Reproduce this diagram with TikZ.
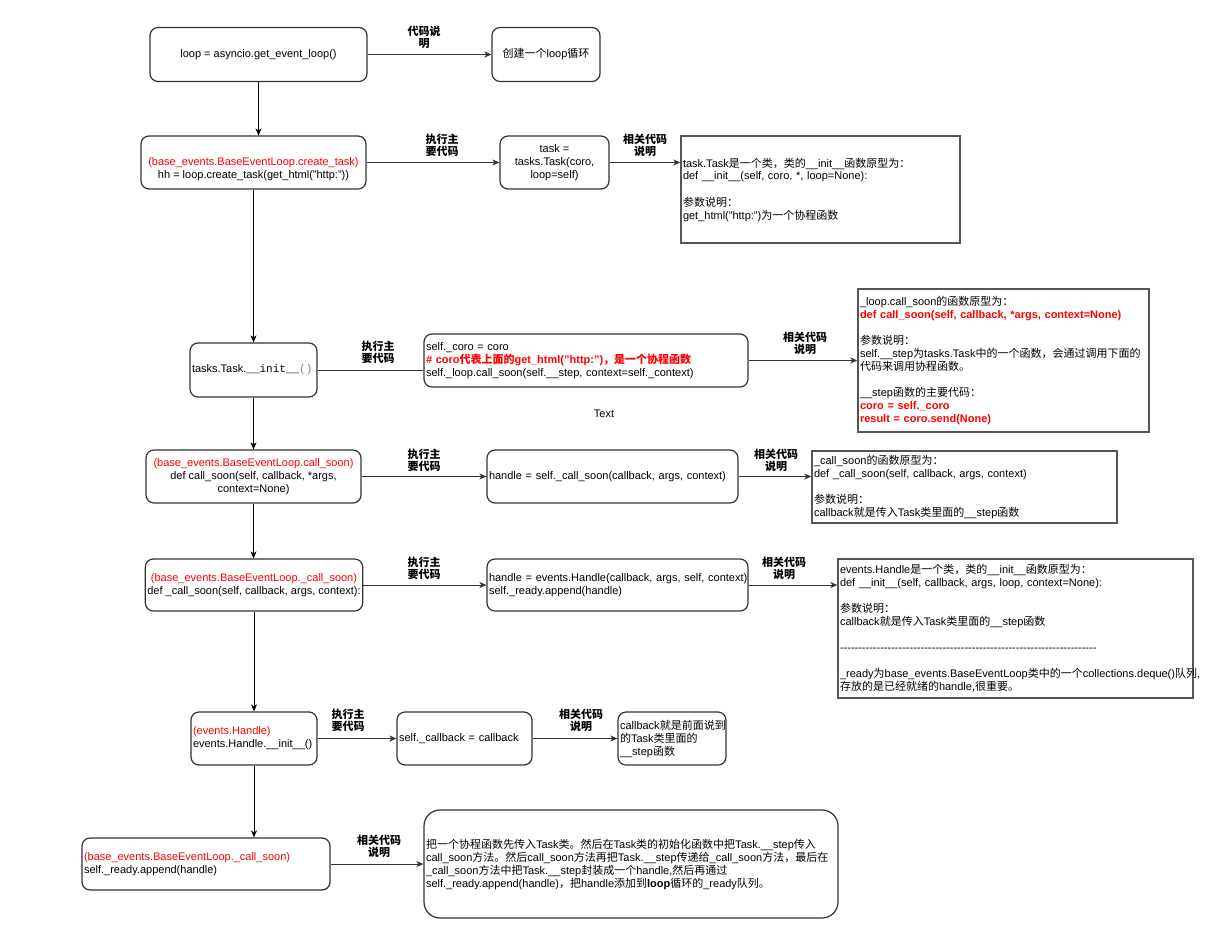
\documentclass[tikz,border=0pt]{standalone}
\usepackage{fontspec}
\setmainfont{Liberation Sans}
\newfontfamily\cjkf{Noto Sans CJK SC}
\newfontfamily\monof{Liberation Mono}
\newcommand\zh[1]{{\cjkf #1}}
\usetikzlibrary{arrows.meta}
\definecolor{cred}{HTML}{FF0000}
\definecolor{bx}{HTML}{333333}
\definecolor{rx}{HTML}{555555}
\definecolor{edgec}{HTML}{333333}
\hyphenpenalty=10000
\exhyphenpenalty=10000
\ExplSyntaxOn
\newcommand\hyrow{\prg_replicate:nn{70}{-\kern0pt}}
\ExplSyntaxOff
\tikzset{
  x=1pt, y=-1pt,
  box/.style={draw=bx, line width=1.2pt, rounded corners=8pt, inner sep=2pt,
    font=\fontsize{11}{13}\selectfont, align=center},
  lbox/.style={box, align=left},
  rbox/.style={draw=rx, line width=1.4pt, inner sep=2pt,
    font=\fontsize{11}{13}\selectfont, align=left},
  lbl/.style={font=\fontsize{11}{12}\selectfont\bfseries, align=center, inner sep=0pt},
  edge/.style={draw=edgec, line width=1pt, -{Stealth[length=7pt,width=6pt,inset=2pt]}},
  vedge/.style={draw=black, line width=1pt, -{Stealth[length=7pt,width=6pt,inset=2pt]}},
  plain/.style={draw=edgec, line width=1pt},
}
\begin{document}
\begin{tikzpicture}
\useasboundingbox (0,0) rectangle (1209,944);
\fill[white] (0,0) rectangle (1209,944);

% row 1
\node[box, minimum width=217pt, minimum height=54pt] (L) at (258.5,54.5) {loop = asyncio.get\_event\_loop()};
\node[box, minimum width=108pt, minimum height=54pt] (C) at (546,54.5) {\zh{创建一个}loop\zh{循环}};
\node[lbl] (lb1) at (424,37) {\zh{代码说}\\\zh{明}};

% row 2
\node[box, minimum width=225pt, minimum height=53pt] (CT) at (253.5,162.5)
  {\rule{0pt}{22pt}{\color{cred}(base\_events.BaseEventLoop.create\_task)}\\hh = loop.create\_task(get\_html("http:"))};
\node[lbl] (lb2) at (442,145.5) {\zh{执行主}\\\zh{要代码}};
\node[box, minimum width=109pt, minimum height=53pt] (TK) at (554.5,162.5) {task =\\tasks.Task(coro,\\loop=self)};
\node[lbl] (lb3) at (645,145) {\zh{相关代码}\\\zh{说明}};
\node[rbox, text width=275pt, minimum width=279pt, minimum height=107pt] (R1) at (820.5,189.5)
  {task.Task\zh{是一个类，类的}\_\_init\_\_\zh{函数原型为：}\\
   def \_\_init\_\_(self, coro, *, loop=None):\\
   \mbox{}\\
   \zh{参数说明：}\\
   get\_html("http:")\zh{为一个协程函数}};

% row 3
\node[lbox, text width=123pt, minimum width=127pt, minimum height=54pt] (TI) at (253.5,370)
  {tasks.Task.{\monof\_\_init\_\_}{\monof\color{gray}()}};
\node[lbl] (lb4) at (378,352) {\zh{执行主}\\\zh{要代码}};
\node[lbox, text width=320pt, minimum width=324pt, minimum height=53pt] (SC) at (586,360.5)
  {self.\_coro = coro\\
   {\color{cred}\bfseries \# coro\zh{代表上面的}get\_html("http:")\zh{，是一个协程函数}}\\
   \mbox{self.\_loop.call\_soon(self.\_\_step, context=self.\_context)}};
\node[font=\fontsize{11}{13}\selectfont, inner sep=0pt] (TX) at (604,414) {Text};
\node[lbl] (lb5) at (805,343) {\zh{相关代码}\\\zh{说明}};
\node[rbox, text width=287pt, minimum width=291pt, minimum height=143pt] (R2) at (1003.5,360.5)
  {\_loop.call\_soon\zh{的函数原型为：}\\
   \mbox{\color{cred}\bfseries def call\_soon(self, callback, *args, context=None)}\\
   \mbox{}\\
   \zh{参数说明：}\\
   self.\_\_step\zh{为}tasks.Task\zh{中的一个函数，会通过调用下面的}\\
   \zh{代码来调用协程函数。}\\
   \mbox{}\\
   \_\_step\zh{函数的主要代码：}\\
   {\color{cred}\bfseries coro = self.\_coro}\\
   {\color{cred}\bfseries result = coro.send(None)}};

% row 4
\node[box, minimum width=215pt, minimum height=53pt] (CS) at (253.5,476.5)
  {{\color{cred}(base\_events.BaseEventLoop.call\_soon)}\\def call\_soon(self, callback, *args,\\context=None)};
\node[lbl] (lb6) at (424,460) {\zh{执行主}\\\zh{要代码}};
\node[lbox, text width=247pt, minimum width=251pt, minimum height=53pt] (H1) at (612.5,476.5)
  {\mbox{handle = self.\_call\_soon(callback, args, context)}};
\node[lbl] (lb7) at (776,460) {\zh{相关代码}\\\zh{说明}};
\node[rbox, text width=301pt, minimum width=305pt, minimum height=72pt] (R3) at (964.5,487)
  {\_call\_soon\zh{的函数原型为：}\\
   def \_call\_soon(self, callback, args, context)\\
   \mbox{}\\
   \zh{参数说明：}\\
   callback\zh{就是传入}Task\zh{类里面的}\_\_step\zh{函数}};

% row 5
\node[box, minimum width=216pt, minimum height=52pt] (CS2) at (254,585)
  {{\color{cred}(base\_events.BaseEventLoop.\_call\_soon)}\\def \_call\_soon(self, callback, args, context):};
\node[lbl] (lb8) at (424,568) {\zh{执行主}\\\zh{要代码}};
\node[lbox, text width=257pt, minimum width=261pt, minimum height=52pt] (H2) at (617.5,585)
  {\mbox{handle = events.Handle(callback, args, self, context)}\\self.\_ready.append(handle)};
\node[lbl] (lb9) at (784,568) {\zh{相关代码}\\\zh{说明}};
\node[rbox, text width=351pt, minimum width=355pt, minimum height=139pt] (R4) at (1015.5,628.5)
  {events.Handle\zh{是一个类，类的}\_\_init\_\_\zh{函数原型为：}\\
   def \_\_init\_\_(self, callback, args, loop, context=None):\\
   \mbox{}\\
   \zh{参数说明：}\\
   callback\zh{就是传入}Task\zh{类里面的}\_\_step\zh{函数}\\
   \mbox{}\\
   \hyrow\\
   \mbox{}\\
   \_ready\zh{为}base\_events.BaseEventLoop\zh{类中的一个}collections.deque()\zh{队列},\\
   \zh{存放的是已经就绪的}handle,\zh{很重要。}};

% row 6
\node[lbox, text width=122pt, minimum width=126pt, minimum height=53pt] (EH) at (254,738.5)
  {{\color{cred}(events.Handle)}\\events.Handle.\_\_init\_\_()};
\node[lbl] (lb10) at (348,720) {\zh{执行主}\\\zh{要代码}};
\node[lbox, text width=131pt, minimum width=135pt, minimum height=53pt] (CB) at (464.5,738.5)
  {self.\_callback = callback};
\node[lbl] (lb11) at (581,720) {\zh{相关代码}\\\zh{说明}};
\node[lbox, text width=104pt, minimum width=108pt, minimum height=53pt] (CN) at (672,738.5)
  {callback\zh{就是前面说到}\\\zh{的}Task\zh{类里面的}\\\_\_step\zh{函数}};

% row 7
\node[lbox, text width=244pt, minimum width=248pt, minimum height=52pt] (RA) at (206,864)
  {{\color{cred}(base\_events.BaseEventLoop.\_call\_soon)}\\self.\_ready.append(handle)};
\node[lbl] (lb12) at (379,846) {\zh{相关代码}\\\zh{说明}};
\node[lbox, rounded corners=16pt, text width=410pt, minimum width=414pt, minimum height=108pt] (SUM) at (631,864)
  {\zh{把一个协程函数先传入}Task\zh{类。然后在}Task\zh{类的初始化函数中把}Task.\_\_step\zh{传入}\\
   call\_soon\zh{方法。然后}call\_soon\zh{方法再把}Task.\_\_step\zh{传递给}\_call\_soon\zh{方法，最后在}\\
   \_call\_soon\zh{方法中把}Task.\_\_step\zh{封装成一个}handle,\zh{然后再通过}\\
   self.\_ready.append(handle)\zh{，把}handle\zh{添加到}\textbf{loop}\zh{循环的}\_ready\zh{队列。}};

% connectors
\draw[edge] (L.east) -- (C.west);
\draw[vedge] (L.south) -- (L.south |- CT.north);
\draw[edge] (CT.east) -- (TK.west);
\draw[edge] (TK.east) -- (TK.east -| R1.west);
\draw[vedge] (CT.south) -- (TI.north);
\draw[plain] (TI.east) -- (TI.east -| SC.west);
\draw[edge] (SC.east) -- (R2.west);
\draw[vedge] (TI.south) -- (CS.north);
\draw[edge] (CS.east) -- (H1.west);
\draw[edge] (H1.east) -- (H1.east -| R3.west);
\draw[vedge] (CS.south) -- (CS.south |- CS2.north);
\draw[edge] (CS2.east) -- (H2.west);
\draw[edge] (H2.east) -- (H2.east -| R4.west);
\draw[vedge] (CS2.south) -- (EH.north);
\draw[edge] (EH.east) -- (CB.west);
\draw[edge] (CB.east) -- (CN.west);
\draw[vedge] (EH.south) -- (EH.south |- RA.north);
\draw[edge] (RA.east) -- (SUM.west);
\end{tikzpicture}
\end{document}
